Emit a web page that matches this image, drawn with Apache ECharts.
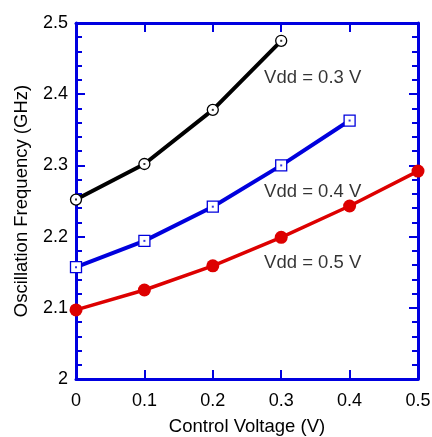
<!DOCTYPE html>
<html><head><meta charset="utf-8">
<script src="https://cdn.jsdelivr.net/npm/echarts@6/dist/echarts.min.js"></script>
<style>html,body{margin:0;padding:0;background:#fff}#c{width:432px;height:437px}</style>
</head><body><div id="c"></div>
<script>
const xValues = [0, 0.1, 0.2, 0.3, 0.4, 0.5];
const vdd03 = [2.252, 2.302, 2.378, 2.475];
const vdd04 = [2.157, 2.194, 2.242, 2.300, 2.363];
const vdd05 = [2.097, 2.125, 2.159, 2.199, 2.243, 2.292];
const seriesNames = ['Vdd = 0.3 V', 'Vdd = 0.4 V', 'Vdd = 0.5 V'];
const labelPoints = [[0.275, 2.423], [0.275, 2.263], [0.275, 2.163]];
const xTitle = 'Control Voltage (V)';
const yTitle = 'Oscillation Frequency (GHz)';

const pairs = arr => arr.map((v, i) => [xValues[i], v]);
const FONT = 'Liberation Sans, Arial, sans-serif';
const AX = '#0000e0';
const tickCfg = {show: true, inside: false, length: -9, lineStyle: {color: AX, width: 2}};
const minorCfg = {show: true, splitNumber: 5, length: -6, lineStyle: {color: AX, width: 2}};
const lineCfg = {show: true, onZero: false, lineStyle: {color: AX, width: 3}};
const chart = echarts.init(document.getElementById('c'));
chart.setOption({
  animation: false,
  grid: {left: 76, right: 14, top: 23, bottom: 58, containLabel: false, outerBoundsMode: 'none'},
  xAxis: [
    {type: 'value', position: 'bottom', min: 0, max: 0.5, interval: 0.1,
      name: xTitle, nameLocation: 'middle', nameGap: 38,
      nameTextStyle: {fontFamily: FONT, fontSize: 18.5, color: '#000'},
      axisLine: lineCfg, axisTick: tickCfg, splitLine: {show: false},
      axisLabel: {fontFamily: FONT, fontSize: 18, color: '#000', margin: 13, formatter: v => String(+v.toFixed(1))}},
    {type: 'value', position: 'top', min: 0, max: 0.5, interval: 0.1,
      axisLine: lineCfg, axisTick: tickCfg, splitLine: {show: false}, axisLabel: {show: false}}
  ],
  yAxis: [
    {type: 'value', position: 'left', min: 2, max: 2.5, interval: 0.1,
      name: yTitle, nameLocation: 'middle', nameGap: 45,
      nameTextStyle: {fontFamily: FONT, fontSize: 18.5, color: '#000'},
      axisLine: lineCfg, axisTick: tickCfg, minorTick: minorCfg, splitLine: {show: false},
      axisLabel: {fontFamily: FONT, fontSize: 18, color: '#000', margin: 8, formatter: v => String(+v.toFixed(1))}},
    {type: 'value', position: 'right', min: 2, max: 2.5, interval: 0.1,
      axisLine: lineCfg, axisTick: tickCfg, minorTick: minorCfg, splitLine: {show: false},
      axisLabel: {show: false}}
  ],
  series: [
    {name: seriesNames[0], type: 'line', data: pairs(vdd03), symbol: 'circle', symbolSize: 11,
      lineStyle: {color: '#000', width: 4}, itemStyle: {color: '#fff', borderColor: '#000', borderWidth: 1.3}, z: 3},
    {type: 'scatter', data: pairs(vdd03), symbol: 'rect', symbolSize: 2, itemStyle: {color: '#000'}, z: 5},
    {name: seriesNames[1], type: 'line', data: pairs(vdd04), symbol: 'rect', symbolSize: 11,
      lineStyle: {color: '#0000dd', width: 4}, itemStyle: {color: '#fff', borderColor: '#0000dd', borderWidth: 1.3}, z: 3},
    {type: 'scatter', data: pairs(vdd04), symbol: 'rect', symbolSize: 2, itemStyle: {color: '#0000dd'}, z: 5},
    {name: seriesNames[2], type: 'line', data: pairs(vdd05), symbol: 'circle', symbolSize: 13,
      lineStyle: {color: '#dd0000', width: 3.5}, itemStyle: {color: '#dd0000', borderWidth: 0}, z: 3},
    {type: 'scatter', data: labelPoints.map((p, i) => ({value: p, name: seriesNames[i]})),
      symbolSize: 0, silent: true,
      label: {show: true, position: 'inside', align: 'left', verticalAlign: 'middle',
        formatter: p => p.name, fontFamily: FONT, fontSize: 18.5, color: '#000'}, z: 6}
  ]
});
</script></body></html>
